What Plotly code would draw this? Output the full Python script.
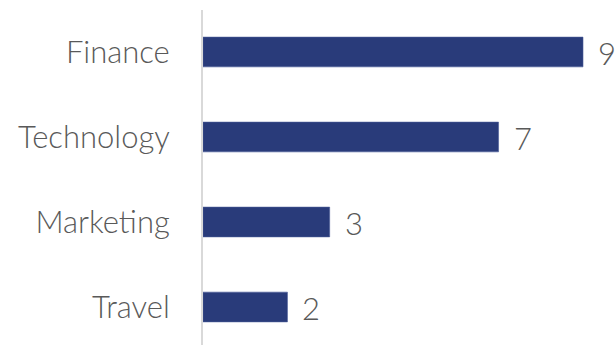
import plotly.graph_objects as go

categories = ["Finance", "Technology", "Marketing", "Travel"]
values = [9, 7, 3, 2]

BAR_COLOR = "#293b7a"
TEXT_COLOR = "#595959"
FONT = "Lato"
FONT_SIZE = 31

fig = go.Figure(
    go.Bar(
        x=values,
        y=categories,
        orientation="h",
        width=0.35,
        marker=dict(color=BAR_COLOR, line=dict(color="#4a5c98", width=0.6)),
        cliponaxis=False,
    )
)

# value labels just past the end of each bar
for cat, val in zip(categories, values):
    fig.add_annotation(
        x=val,
        y=cat,
        text=str(val),
        showarrow=False,
        xanchor="left",
        xshift=13,
        yshift=-1,
        font=dict(family=FONT, size=FONT_SIZE, color=TEXT_COLOR, weight=300),
    )

fig.update_layout(
    width=615,
    height=345,
    margin=dict(l=203, r=0, t=10, b=0),
    paper_bgcolor="white",
    plot_bgcolor="white",
    showlegend=False,
    font=dict(family=FONT, color=TEXT_COLOR),
    xaxis=dict(
        range=[0, 9.758],
        showgrid=False,
        zeroline=False,
        showticklabels=False,
        showline=False,
    ),
    yaxis=dict(
        categoryorder="array",
        categoryarray=categories,
        range=[3.447, -0.494],
        showgrid=False,
        zeroline=False,
        showline=True,
        linecolor="#d9d9d9",
        linewidth=2,
        ticks="",
        ticklabelstandoff=25,
        tickfont=dict(family=FONT, size=FONT_SIZE, color=TEXT_COLOR, weight=300),
    ),
)

fig.write_html("out.html")
